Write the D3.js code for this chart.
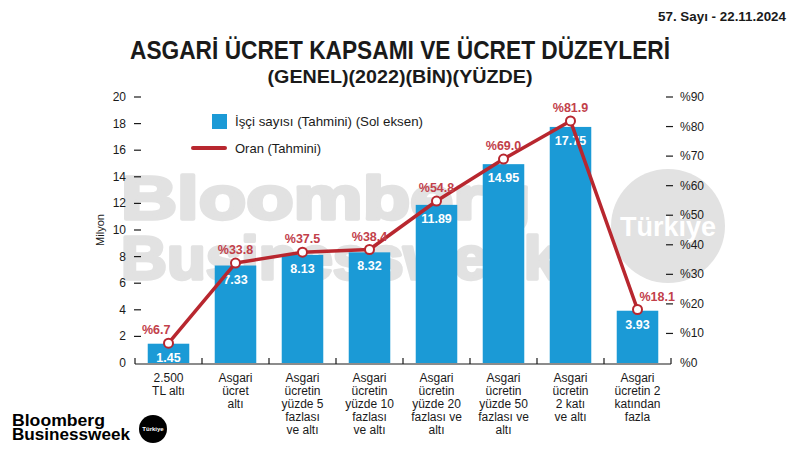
<!DOCTYPE html>
<html><head><meta charset="utf-8">
<script src="https://cdn.jsdelivr.net/npm/d3@7/dist/d3.min.js"></script>
<style>
body{margin:0;background:#fff;}
svg{display:block;font-family:"Liberation Sans",Arial,sans-serif;}
</style></head>
<body><svg id="c" width="800" height="450"></svg>
<script>
const categories = [
  ["2.500","TL altı"],
  ["Asgari","ücret","altı"],
  ["Asgari","ücretin","yüzde 5","fazlası","ve altı"],
  ["Asgari","ücretin","yüzde 10","fazlası","ve altı"],
  ["Asgari","ücretin","yüzde 20","fazlası ve","altı"],
  ["Asgari","ücretin","yüzde 50","fazlası ve","altı"],
  ["Asgari","ücretin","2 katı","ve altı"],
  ["Asgari","ücretin 2","katından","fazla"]
];
const workers = [1.45, 7.33, 8.13, 8.32, 11.89, 14.95, 17.75, 3.93];
const ratio = [6.7, 33.8, 37.5, 38.4, 54.8, 69.0, 81.9, 18.1];
const leftTicks = [0,2,4,6,8,10,12,14,16,18,20];
const rightTicks = [0,10,20,30,40,50,60,70,80,90];
const title = "ASGARİ ÜCRET KAPSAMI VE ÜCRET DÜZEYLERİ";
const subtitle = "(GENEL)(2022)(BİN)(YÜZDE)";
const issue = "57. Sayı - 22.11.2024";

const svg = d3.select("#c");
const BLUE = "#1b9ad6", RED = "#b8272f", LRED = "#c2404a", INK = "#1a1a1a", WM = "#e2e2e2";
const x0 = 135, x1 = 671, yTop = 97, yBot = 363;

const x = d3.scaleBand().domain(d3.range(categories.length)).range([x0, x1]).paddingInner(0.38).paddingOuter(0.19);
const xb = d3.scaleBand().domain(d3.range(categories.length)).range([x0, x1]);
const yL = d3.scaleLinear().domain([0,20]).range([yBot, yTop]);
const yR = d3.scaleLinear().domain([0,90]).range([yBot, yTop]);

// Header
svg.append("text").attr("x",786).attr("y",21).attr("text-anchor","end")
  .attr("font-weight","bold").attr("font-size",13).attr("fill",INK)
  .attr("textLength",128).attr("lengthAdjust","spacingAndGlyphs").text(issue);
svg.append("text").attr("x",400).attr("y",59).attr("text-anchor","middle")
  .attr("font-weight","bold").attr("font-size",26).attr("fill",INK)
  .attr("textLength",540).attr("lengthAdjust","spacingAndGlyphs").text(title);
svg.append("text").attr("x",400).attr("y",83).attr("text-anchor","middle")
  .attr("font-weight","bold").attr("font-size",18).attr("fill",INK)
  .attr("textLength",265).attr("lengthAdjust","spacingAndGlyphs").text(subtitle);

// Watermark
const wm = svg.append("g").attr("fill",WM).attr("stroke",WM).attr("stroke-width",3.5)
  .attr("stroke-linejoin","round").attr("font-weight","bold");
wm.append("text").attr("x",121).attr("y",219).attr("font-size",62)
  .attr("textLength",410).attr("lengthAdjust","spacingAndGlyphs").text("Bloomberg");
wm.append("text").attr("x",121).attr("y",279).attr("font-size",62)
  .attr("textLength",438).attr("lengthAdjust","spacingAndGlyphs").text("Businessweek");
svg.append("circle").attr("cx",668).attr("cy",226).attr("r",57).attr("fill",WM);
svg.append("text").attr("x",668).attr("y",236).attr("text-anchor","middle")
  .attr("font-weight","bold").attr("font-size",27).attr("fill","#fff").text("Türkiye");

// Left axis
const la = svg.append("g").attr("font-size",12).attr("fill",INK);
leftTicks.forEach(t=>{
  la.append("text").attr("x",126).attr("y",yL(t)+4).attr("text-anchor","end").text(t);
  if(t>0) la.append("line").attr("x1",134).attr("x2",141).attr("y1",yL(t)).attr("y2",yL(t)).attr("stroke",INK).attr("stroke-width",1.2);
});
svg.append("text").attr("transform",`translate(104,${(yTop+yBot)/2}) rotate(-90)`)
  .attr("text-anchor","middle").attr("font-size",11).attr("fill",INK).text("Milyon");

// Right axis
const ra = svg.append("g").attr("font-size",12).attr("fill",INK);
rightTicks.forEach(t=>{
  ra.append("text").attr("x",680).attr("y",yR(t)+4).text("%"+t);
  if(t>0) ra.append("line").attr("x1",666).attr("x2",673).attr("y1",yR(t)).attr("y2",yR(t)).attr("stroke",INK).attr("stroke-width",1.2);
});

// Legend
svg.append("rect").attr("x",212).attr("y",114).attr("width",15).attr("height",15).attr("fill",BLUE);
svg.append("text").attr("x",235).attr("y",126).attr("font-size",13).attr("fill",INK)
  .attr("textLength",188).attr("lengthAdjust","spacingAndGlyphs").text("İşçi sayısı (Tahmini) (Sol eksen)");
svg.append("line").attr("x1",193).attr("x2",225).attr("y1",148).attr("y2",148).attr("stroke",RED).attr("stroke-width",4).attr("stroke-linecap","round");
svg.append("text").attr("x",235).attr("y",153).attr("font-size",13).attr("fill",INK).text("Oran (Tahmini)");

// Bars
svg.append("g").selectAll("rect").data(workers).join("rect")
  .attr("x",(d,i)=>x(i)).attr("width",x.bandwidth())
  .attr("y",d=>yL(d)).attr("height",d=>yBot-yL(d)).attr("fill",BLUE);
svg.append("g").selectAll("text").data(workers).join("text")
  .attr("x",(d,i)=>x(i)+x.bandwidth()/2).attr("y",d=>yL(d)+18)
  .attr("text-anchor","middle").attr("font-size",12.5).attr("font-weight","bold").attr("fill","#fff")
  .text(d=>d.toFixed(2));

// Baseline & separators
svg.append("line").attr("x1",x0).attr("x2",x1).attr("y1",yBot+1).attr("y2",yBot+1).attr("stroke",INK).attr("stroke-width",1.2);
svg.append("g").selectAll("line").data(d3.range(categories.length+1)).join("line")
  .attr("x1",i=> i<categories.length? xb(i): x1).attr("x2",i=> i<categories.length? xb(i): x1)
  .attr("y1",yBot-5).attr("y2",yBot+1).attr("stroke",INK).attr("stroke-width",1.2);

// Category labels
const cl = svg.append("g").attr("font-size",12).attr("fill",INK).attr("text-anchor","middle");
categories.forEach((lines,i)=>{
  const t = cl.append("text").attr("x",xb(i)+xb.bandwidth()/2).attr("y",382);
  lines.forEach((s,k)=>t.append("tspan").attr("x",xb(i)+xb.bandwidth()/2).attr("dy",k?13:0).text(s));
});

// Line
const cx = i => x(i)+x.bandwidth()/2;
svg.append("path").datum(ratio)
  .attr("d", d3.line().x((d,i)=>cx(i)).y(d=>yR(d)))
  .attr("fill","none").attr("stroke",RED).attr("stroke-width",3.5).attr("stroke-linejoin","round");
svg.append("g").selectAll("circle").data(ratio).join("circle")
  .attr("cx",(d,i)=>cx(i)).attr("cy",d=>yR(d)).attr("r",4.5)
  .attr("fill","#fff").attr("stroke",RED).attr("stroke-width",2);
const n = ratio.length;
svg.append("g").selectAll("text").data(ratio).join("text")
  .attr("x",(d,i)=> i===0? cx(i)+2 : i===n-1 ? cx(i)+2 : cx(i))
  .attr("y",(d,i)=> yR(d)-9)
  .attr("text-anchor",(d,i)=> i===0?"end": i===n-1?"start":"middle")
  .attr("font-size",12.5).attr("font-weight","bold").attr("fill",LRED)
  .text(d=>"%"+d.toFixed(1));

// Footer logo
const fl = svg.append("g").attr("font-weight","bold").attr("font-size",17).attr("fill","#000");
fl.append("text").attr("x",12).attr("y",426).attr("textLength",93).attr("lengthAdjust","spacingAndGlyphs").text("Bloomberg");
fl.append("text").attr("x",12).attr("y",440).attr("textLength",118).attr("lengthAdjust","spacingAndGlyphs").text("Businessweek");
svg.append("circle").attr("cx",153).attr("cy",429).attr("r",14).attr("fill","#000");
svg.append("text").attr("x",153).attr("y",431).attr("text-anchor","middle").attr("font-size",6).attr("font-weight","bold").attr("fill","#fff").text("Türkiye");
</script></body></html>
